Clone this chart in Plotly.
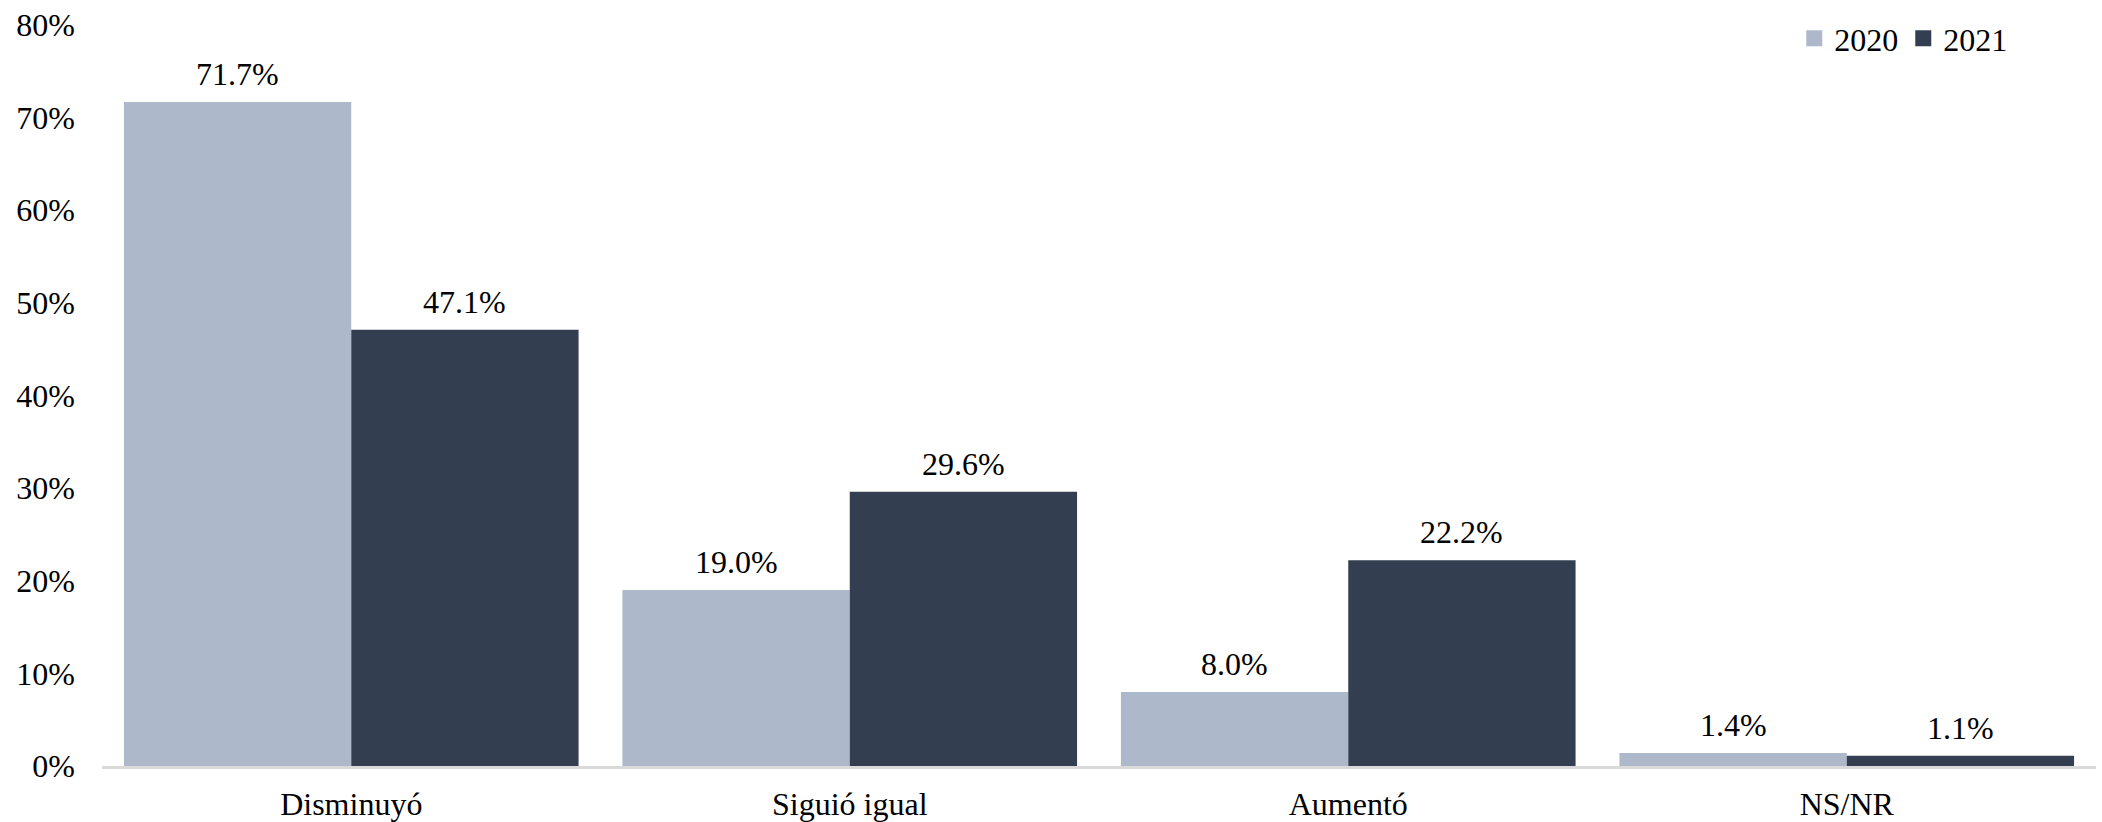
import plotly.graph_objects as go

categories = ["Disminuyó", "Siguió igual", "Aumentó", "NS/NR"]
values_2020 = [71.7, 19.0, 8.0, 1.4]
values_2021 = [47.1, 29.6, 22.2, 1.1]
series_names = ["2020", "2021"]
y_tick_values = [0, 10, 20, 30, 40, 50, 60, 70, 80]
y_tick_labels = [f"{v}%" for v in y_tick_values]

FONT = "Liberation Serif, Times New Roman, serif"
FSIZE = 32
colors = ["#ADB9CA", "#333F50"]

W, H = 2102, 822
ML, MR, MT, MB = 102, 6, 25, 56
BARGAP = 0.088
plot_w = W - ML - MR
cat_w = plot_w / len(categories)
bar_w = cat_w * (1 - BARGAP) / 2

fig = go.Figure()
annotations = []
for i, (name, vals, col) in enumerate(zip(series_names, [values_2020, values_2021], colors)):
    fig.add_trace(go.Bar(
        x=categories, y=vals, name=name, marker_color=col,
        marker_line_width=0, cliponaxis=False, showlegend=False,
    ))
    shift = (i - 0.5) * bar_w
    for c, v in zip(categories, vals):
        annotations.append(dict(
            x=c, y=v, xref="x", yref="y", text=f"{v:.1f}%", showarrow=False,
            xshift=shift, yshift=28, yanchor="middle", xanchor="center",
            font=dict(family=FONT, size=FSIZE, color="#000000"),
        ))

# legend-only entries with larger square swatches
for name, col in zip(series_names, colors):
    fig.add_trace(go.Scatter(
        x=[None], y=[None], mode="markers", name=name,
        marker=dict(symbol="square", size=16, color=col), showlegend=True,
    ))

fig.update_layout(
    width=W, height=H,
    margin=dict(l=ML, r=MR, t=MT, b=MB, autoexpand=False),
    paper_bgcolor="white", plot_bgcolor="white",
    barmode="group", bargap=BARGAP, bargroupgap=0,
    font=dict(family=FONT, size=FSIZE, color="#000000"),
    showlegend=True,
    legend=dict(orientation="h", x=0.958, xanchor="right", y=0.982, yanchor="middle",
                font=dict(family=FONT, size=FSIZE), bgcolor="rgba(0,0,0,0)",
                itemwidth=30, traceorder="normal"),
    annotations=annotations,
)
fig.update_xaxes(showline=True, linecolor="#D9D9D9", linewidth=3, showgrid=False,
                 ticks="", tickfont=dict(family=FONT, size=FSIZE), ticklabelstandoff=8,
                 automargin=False)
fig.update_yaxes(range=[0, 80], tickvals=y_tick_values, ticktext=y_tick_labels,
                 showgrid=False, zeroline=False, showline=False, ticks="",
                 tickfont=dict(family=FONT, size=FSIZE), ticklabelstandoff=26,
                 automargin=False)

fig.write_html("out.html", config={"displayModeBar": False},
               post_script="document.body.style.margin='0';document.body.style.overflow='hidden';")
